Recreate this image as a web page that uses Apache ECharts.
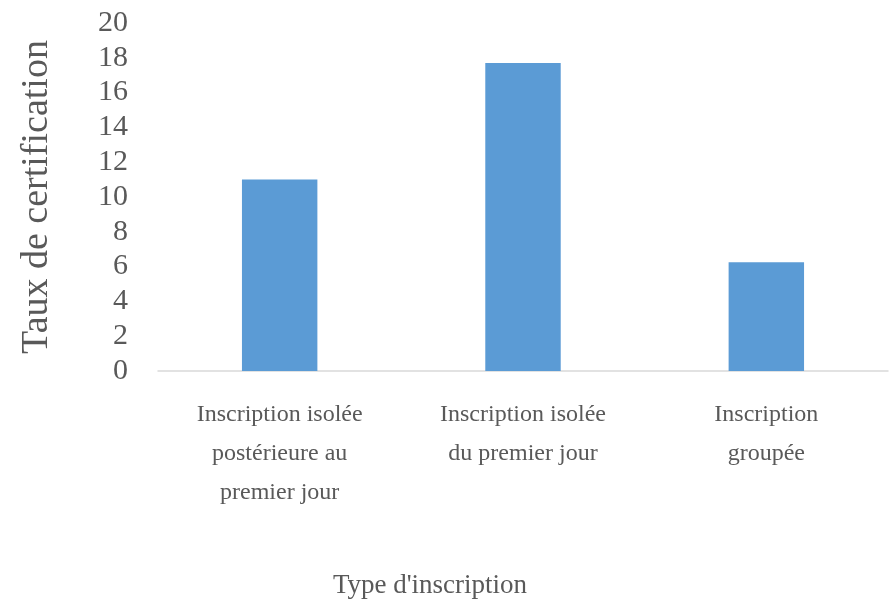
<!DOCTYPE html>
<html>
<head>
<meta charset="utf-8">
<script src="https://cdn.jsdelivr.net/npm/echarts@6/dist/echarts.min.js"></script>
<style>
  html, body { margin: 0; padding: 0; background: #fff; }
  #chart { width: 893px; height: 606px; }
</style>
</head>
<body>
<div id="chart"></div>
<script>
const categories = [
    'Inscription isolée\npostérieure au\npremier jour',
    'Inscription isolée\ndu premier jour',
    'Inscription\ngroupée'
];
const tauxValues = [11.0, 17.7, 6.25];
const yTicks = { min: 0, max: 20, interval: 2 };

const font = '"Liberation Serif", "DejaVu Serif", serif';
const textColor = '#595959';

const chart = echarts.init(document.getElementById('chart'));

const option = {
    backgroundColor: '#fff',
    animation: false,
    grid: {
        left: 158,
        right: 5,
        top: 23,
        bottom: 235,
        outerBoundsMode: 'none'
    },
    xAxis: {
        type: 'category',
        data: categories,
        name: "Type d'inscription",
        nameLocation: 'middle',
        nameGap: 201,
        nameTextStyle: {
            fontFamily: font,
            fontSize: 27,
            color: textColor,
            padding: [0, 186, 0, 0]
        },
        axisLine: { lineStyle: { color: '#d9d9d9', width: 1.5 } },
        axisTick: { show: false },
        axisLabel: {
            fontFamily: font,
            fontSize: 24,
            color: textColor,
            lineHeight: 39,
            margin: 24,
            interval: 0
        }
    },
    yAxis: {
        type: 'value',
        min: yTicks.min,
        max: yTicks.max,
        interval: yTicks.interval,
        name: 'Taux de certification',
        nameLocation: 'middle',
        nameGap: 102,
        nameTextStyle: {
            fontFamily: font,
            fontSize: 38,
            color: textColor
        },
        axisLine: { show: false },
        axisTick: { show: false },
        splitLine: { show: false },
        axisLabel: {
            fontFamily: font,
            fontSize: 30,
            color: textColor,
            margin: 30
        }
    },
    series: [
        {
            type: 'bar',
            data: tauxValues,
            barWidth: '31%',
            itemStyle: { color: '#5b9bd5' }
        }
    ]
};

chart.setOption(option);
</script>
</body>
</html>
